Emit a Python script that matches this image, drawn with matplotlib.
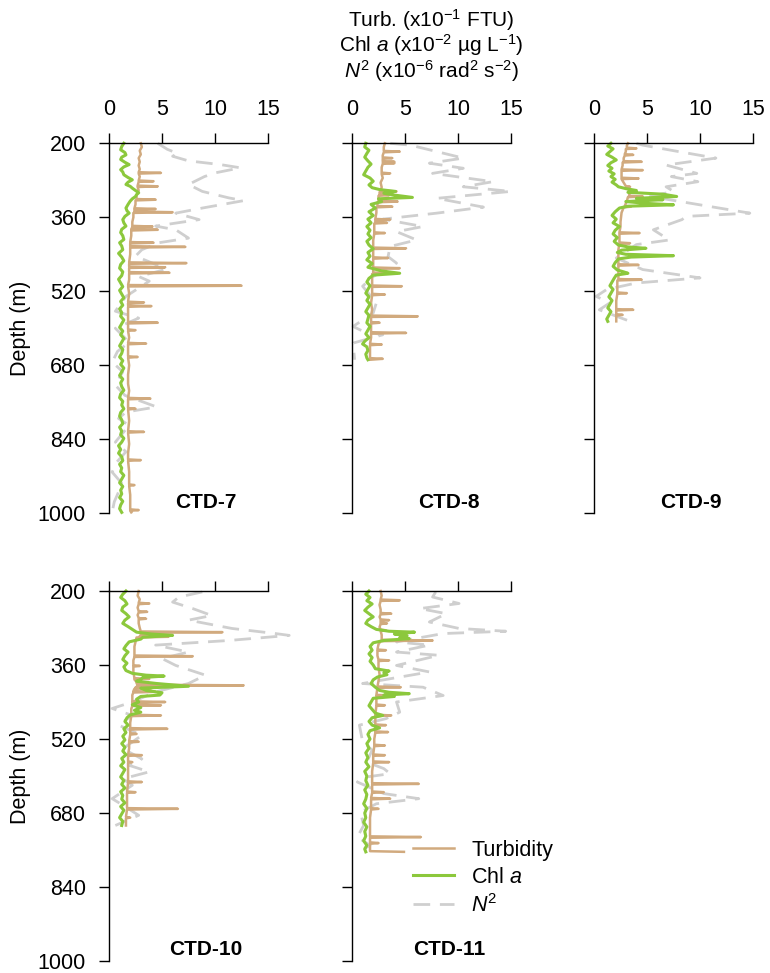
import matplotlib
matplotlib.use("Agg")
import matplotlib.pyplot as plt
from matplotlib.lines import Line2D

plt.rcParams["font.family"] = ["Liberation Sans", "DejaVu Sans"]
plt.rcParams["mathtext.fontset"] = "custom"
plt.rcParams["mathtext.rm"] = "Liberation Sans"
plt.rcParams["mathtext.it"] = "Liberation Sans:italic"
plt.rcParams["mathtext.bf"] = "Liberation Sans:bold"

# profiles: (depth m, value)
turb7 = [
    (200, 3.0), (208, 3.1), (216, 2.9), (224, 3.0), (232, 2.8), (240, 2.9), (248, 2.8), (256, 2.9),
    (262.5, 2.8), (264, 4.9), (265.5, 2.8), (272, 2.9), (280.5, 2.8), (282, 4.2), (283.5, 2.8),
    (291.5, 2.7), (293, 4.6), (294.5, 2.7), (302, 2.8), (312, 2.6), (320.5, 2.6), (322, 4.4), (323.5, 2.5),
    (332, 2.5), (340.5, 2.4), (342, 4.4), (343.5, 2.4), (347.5, 2.4), (349, 6.0), (350.5, 2.3),
    (360, 2.3), (370, 2.2), (378.5, 2.2), (380, 4.1), (381.5, 2.2), (385.5, 2.1), (387, 4.6), (388.5, 2.1),
    (400, 2.1), (413.5, 2.0), (415, 4.2), (416.5, 2.0), (422.5, 2.0), (424, 7.2), (425.5, 2.0),
    (440, 2.0), (457.5, 1.9), (459, 7.3), (460.5, 1.9), (466.5, 1.9), (468, 5.3), (469.5, 1.9),
    (478.5, 1.9), (480, 5.7), (481.5, 1.9), (495, 1.9), (506.5, 1.8), (508, 12.5), (509.5, 1.8),
    (525, 1.9), (542.5, 1.8), (544, 3.3), (545.5, 1.8), (550.5, 1.8), (552, 4.0), (553.5, 1.8),
    (570, 1.8), (586.5, 1.8), (588, 4.6), (589.5, 1.8), (602.5, 1.8), (604, 2.5), (605.5, 1.8),
    (620, 1.9), (631.5, 1.8), (633, 3.5), (634.5, 1.8), (650, 1.8), (660.5, 1.8), (662, 2.7), (663.5, 1.8),
    (680, 1.9), (700, 1.8), (720, 1.8), (735, 1.9), (750.5, 1.8), (752, 3.9), (753.5, 1.8),
    (772.5, 1.8), (774, 2.5), (775.5, 1.8), (800, 1.9), (822.5, 1.8), (824, 3.3), (825.5, 1.8),
    (850, 1.9), (870, 1.8), (883.5, 1.8), (885, 3.0), (886.5, 1.8), (910, 1.9), (937.5, 1.9), (939, 2.4),
    (940.5, 1.9), (960, 2.0), (980, 2.0), (991.5, 2.0), (993, 2.8), (994.5, 2.0), (998, 2.1),
]
chl7 = [
    (200, 1.4), (207, 1.2), (214, 1.1), (220, 1.5), (225, 1.6), (230, 1.2), (235, 1.1), (241, 1.5),
    (246, 1.9), (251, 1.4), (257, 1.1), (262, 1.3), (268, 1.4), (274, 1.8), (279, 2.2), (284, 1.8),
    (289, 1.6), (293, 2.0), (297, 2.2), (302, 2.5), (307, 2.8), (311, 2.6), (315, 2.5), (320, 2.2),
    (325, 2.0), (332, 1.8), (340, 1.6), (346, 1.7), (351, 1.9), (358, 1.5), (365, 1.3), (372, 1.4),
    (379, 1.6), (386, 1.2), (393, 1.1), (400, 1.3), (408, 1.4), (415, 1.0), (422, 1.2), (430, 1.3),
    (438, 0.9), (446, 1.2), (454, 1.4), (462, 1.1), (470, 1.0), (478, 1.3), (486, 1.2), (494, 0.9),
    (502, 1.1), (510, 1.3), (518, 1.0), (526, 1.2), (534, 1.4), (542, 1.1), (550, 1.3), (558, 1.0),
    (566, 1.2), (574, 1.1), (582, 1.4), (590, 1.2), (598, 1.0), (606, 1.3), (614, 1.1), (622, 1.4),
    (630, 1.2), (638, 1.0), (646, 1.3), (654, 1.2), (662, 1.0), (670, 1.3), (678, 1.1), (686, 1.4),
    (694, 1.2), (702, 1.0), (710, 1.3), (718, 1.1), (726, 1.2), (734, 1.4), (742, 1.1), (750, 1.0),
    (758, 1.3), (766, 1.2), (774, 1.4), (782, 1.1), (790, 1.0), (798, 1.2), (806, 1.3), (814, 1.0),
    (822, 1.2), (830, 1.1), (838, 1.4), (846, 1.2), (854, 0.9), (862, 1.1), (870, 0.9), (878, 1.2),
    (886, 1.3), (894, 1.0), (902, 1.2), (910, 1.1), (918, 1.4), (926, 1.2), (934, 1.0), (942, 1.3),
    (950, 1.1), (958, 1.2), (966, 1.0), (974, 1.3), (982, 1.1), (990, 1.0), (998, 1.2),
]
n2_7 = [
    (200, 4.6), (213, 5.5), (222, 6.5), (228, 6.0), (238, 7.5), (246, 10.5), (253, 12.4), (264, 10.0),
    (272, 9.0), (289, 7.5), (304, 8.8), (318, 11.3), (324, 12.7), (340, 8.8), (351, 6.3), (365, 8.5),
    (379, 4.4), (387, 6.3), (405, 7.5), (415, 4.7), (430, 3.1), (444, 2.5), (462, 4.4), (473, 5.3),
    (488, 2.8), (498, 3.8), (531, 1.6), (563, 0.6), (578, 2.8), (600, 0.6), (630, 1.9), (650, 0.8),
    (673, 0.3), (694, 1.3), (723, 0.6), (745, 1.5), (770, 4.5), (781, 1.6), (795, 0.9), (810, 1.9),
    (846, 0.6), (867, 1.6), (890, 0.7), (911, 0.3), (935, 1.2), (954, 0.9), (975, 0.5), (997, 0.3),
]

turb8 = [
    (200, 3.1), (208, 3.0), (216.5, 3.0), (218, 4.5), (219.5, 3.0), (226, 2.9), (230.5, 2.9), (232, 3.8),
    (233.5, 2.9), (238.5, 2.9), (240, 4.0), (241.5, 2.9), (243, 4.0), (244.5, 2.9), (252, 2.8),
    (263.5, 2.8), (265, 3.6), (266.5, 2.8), (275, 2.9), (285, 2.7), (295, 2.8), (302.5, 2.7), (304, 4.2),
    (305.5, 2.6), (310.5, 2.6), (312, 3.5), (313.5, 2.5), (324.5, 2.5), (326, 4.3), (327.5, 2.4),
    (335.5, 2.4), (337, 3.8), (338.5, 2.3), (350, 2.3), (363.5, 2.2), (365, 3.6), (366.5, 2.2),
    (370.5, 2.2), (372, 3.3), (373.5, 2.1), (385, 2.1), (392.5, 2.1), (394, 3.1), (395.5, 2.1),
    (410, 2.0), (425.5, 2.0), (427, 5.1), (428.5, 2.0), (446.5, 2.0), (448, 3.4), (449.5, 2.0), (460, 2.0),
    (468.5, 2.0), (470, 4.5), (471.5, 2.0), (479.5, 2.0), (481, 4.3), (482.5, 1.9), (495, 1.9),
    (507.5, 1.9), (509, 4.7), (510.5, 1.9), (525.5, 1.9), (527, 3.1), (528.5, 1.9), (545, 1.8), (560, 1.9),
    (572.5, 1.8), (574, 6.2), (575.5, 1.8), (586.5, 1.8), (588, 2.6), (589.5, 1.8), (600, 1.8),
    (608.5, 1.8), (610, 5.1), (611.5, 1.8), (620, 1.8), (633.5, 1.7), (635, 2.8), (636.5, 1.7), (650, 1.7),
    (664.5, 1.7), (666, 2.9), (668, 1.7),
]
chl8 = [
    (200, 1.3), (208, 1.2), (215, 1.6), (222, 1.4), (230, 1.2), (238, 1.5), (245, 1.8), (252, 1.5),
    (260, 1.3), (268, 1.1), (275, 1.7), (282, 2.0), (290, 1.6), (296, 1.9), (300, 2.6), (304, 4.1),
    (308, 3.0), (312, 4.0), (317, 5.7), (320, 2.5), (326, 2.8), (332, 1.8), (340, 2.2), (348, 1.6),
    (356, 2.0), (364, 1.5), (372, 1.8), (380, 1.4), (388, 1.7), (396, 1.5), (404, 1.8), (412, 1.4),
    (420, 1.6), (428, 2.0), (436, 1.5), (444, 1.7), (452, 1.4), (460, 1.9), (468, 1.5), (476, 2.8),
    (481, 4.5), (485, 2.0), (492, 1.6), (500, 1.4), (508, 1.7), (516, 1.5), (524, 1.3), (532, 1.6),
    (540, 1.4), (548, 1.7), (556, 1.5), (564, 1.3), (572, 1.6), (580, 1.5), (588, 1.4), (596, 1.7),
    (604, 1.5), (612, 1.3), (620, 1.6), (628, 1.2), (634, 1.0), (640, 1.4), (648, 1.5), (656, 1.3),
    (664, 1.4), (668, 1.5),
]
n2_8 = [
    (200, 3.6), (204, 5.5), (214, 7.3), (232, 10.5), (243, 7.3), (254, 10.5), (265, 7.6), (283, 13.3),
    (294, 10.5), (304, 15.0), (319, 8.0), (338, 12.4), (351, 8.0), (364, 2.9), (380, 6.7), (391, 4.2),
    (409, 6.1), (423, 3.6), (445, 3.4), (459, 4.2), (488, 2.0), (509, 1.0), (545, 2.3), (567, 2.0),
    (596, 0.1), (606, 1.0), (614, 2.9), (632, 0.1), (668, 0.25),
]

turb9 = [
    (200, 3.2), (205, 3.1), (209.5, 3.1), (211, 4.0), (212.5, 3.0), (218, 3.0), (223.5, 2.9), (225, 3.7),
    (226.5, 2.9), (232, 2.8), (238.5, 2.8), (240, 4.5), (241.5, 2.7), (248, 2.7), (256.5, 2.6), (258, 4.6),
    (259.5, 2.6), (266, 2.6), (274.5, 2.6), (276, 4.2), (277.5, 2.6), (285, 2.8), (292.5, 3.0), (294, 3.4),
    (295.5, 3.1), (305, 3.4), (313.5, 3.3), (315, 4.6), (316.5, 3.2), (325, 3.1), (335.5, 2.9), (337, 3.5),
    (338.5, 2.8), (350, 2.6), (370, 2.5), (380, 2.5), (392.5, 2.4), (394, 4.3), (395.5, 2.4), (405, 2.4),
    (414.5, 2.4), (416, 3.4), (417.5, 2.4), (430, 2.3), (445, 2.3), (461.5, 2.3), (463, 4.2), (464.5, 2.3),
    (480, 2.3), (493.5, 2.3), (495, 4.5), (496.5, 2.2), (510, 2.2), (522.5, 2.2), (524, 3.1), (525.5, 2.2),
    (540, 2.1), (558.5, 2.1), (560, 3.7), (561.5, 2.1), (569.5, 2.1), (571, 2.7), (572.5, 2.1), (585, 2.1),
]
chl9 = [
    (200, 1.6), (206, 1.3), (212, 1.8), (218, 1.5), (224, 1.2), (230, 1.7), (236, 2.1), (242, 1.6),
    (248, 1.3), (254, 1.7), (260, 1.4), (266, 1.9), (272, 1.6), (278, 2.0), (284, 1.7), (290, 2.1),
    (294, 2.3), (298, 3.0), (302, 4.0), (306, 3.2), (310, 6.5), (315, 7.8), (319, 4.0), (322, 6.5),
    (326, 3.0), (330, 5.0), (333, 7.5), (336, 3.2), (340, 2.4), (348, 2.0), (356, 1.7), (364, 2.1),
    (372, 1.8), (380, 2.4), (388, 2.0), (396, 1.8), (404, 2.2), (412, 1.9), (420, 2.3), (424, 3.2),
    (427, 4.9), (431, 2.6), (436, 2.2), (440, 3.0), (443, 7.5), (446, 3.5), (450, 2.3), (458, 2.0),
    (466, 1.8), (474, 2.2), (478, 2.8), (481, 3.2), (485, 2.1), (492, 1.9), (500, 1.7), (508, 1.5),
    (516, 1.8), (524, 1.6), (532, 1.4), (540, 1.7), (548, 1.5), (556, 1.3), (564, 1.6), (572, 1.4),
    (580, 1.2), (585, 1.3),
]
n2_9 = [
    (200, 4.0), (204, 4.6), (218, 8.0), (232, 11.5), (247, 6.8), (265, 9.7), (272, 7.3), (283, 9.8),
    (294, 6.8), (304, 7.5), (315, 5.3), (335, 10.5), (351, 14.7), (358, 8.7), (365, 8.3), (387, 5.6),
    (409, 7.1), (419, 4.0), (448, 2.1), (473, 4.6), (491, 10.0), (502, 4.0), (516, 1.2), (531, 0.2),
    (545, 1.5), (560, 0.5), (585, 3.4),
]

turb10 = [
    (200, 2.8), (210, 2.7), (218, 2.9), (225.5, 2.8), (227, 3.8), (228.5, 2.8), (236, 2.7), (243.5, 2.8),
    (245, 3.6), (246.5, 2.8), (252, 2.7), (258.5, 2.8), (260, 3.5), (261.5, 2.8), (270, 2.8), (280, 2.9),
    (287.5, 3.0), (289, 10.7), (290.5, 3.0), (294.5, 3.0), (296, 5.3), (297.5, 2.9), (299, 5.6), (300.5, 2.6),
    (310, 2.5), (320, 2.4), (330, 2.4), (339.5, 2.4), (341, 7.9), (342.5, 2.4), (350, 2.3), (360.5, 2.3),
    (362, 2.9), (363.5, 2.3), (375, 2.3), (388.5, 2.4), (390, 3.8), (391.5, 2.4), (396.5, 2.6), (398, 3.5),
    (399.5, 2.6), (402.5, 2.7), (404, 12.7), (405.5, 2.7), (408.5, 2.5), (410, 4.0), (411.5, 2.4),
    (416.5, 2.3), (418, 4.4), (419.5, 2.3), (425, 2.2), (438.5, 2.2), (440, 5.3), (441.5, 2.2),
    (445.5, 2.2), (447, 4.9), (448.5, 2.2), (455, 2.1), (467.5, 2.1), (469, 4.9), (470.5, 2.1), (485, 2.0),
    (496.5, 2.0), (498, 5.5), (499.5, 2.0), (507.5, 2.0), (509, 2.6), (510.5, 2.0), (524.5, 1.9), (526, 2.8),
    (527.5, 1.9), (540, 1.9), (553.5, 1.8), (555, 3.1), (556.5, 1.8), (568.5, 1.8), (570, 2.2), (571.5, 1.8),
    (590, 1.8), (611.5, 1.8), (613, 3.1), (614.5, 1.8), (633.5, 1.7), (635, 2.5), (636.5, 1.7), (655, 1.7),
    (669.5, 1.7), (671, 6.5), (672.5, 1.7), (688.5, 1.6), (690, 2.0), (691.5, 1.6), (707, 1.6),
]
chl10 = [
    (200, 1.6), (207, 1.3), (214, 1.1), (221, 1.5), (228, 1.7), (235, 1.3), (242, 1.2), (249, 1.6),
    (256, 1.9), (263, 1.5), (270, 1.3), (277, 1.8), (283, 2.2), (289, 2.6), (293, 4.0), (296, 6.0),
    (300, 3.2), (304, 3.0), (310, 1.9), (318, 1.6), (325, 1.4), (332, 1.8), (340, 1.5), (348, 1.3),
    (356, 1.7), (364, 1.4), (372, 1.6), (378, 2.2), (382, 3.5), (384, 5.2), (387, 3.2), (391, 3.0),
    (395, 2.6), (400, 4.5), (406, 7.5), (410, 3.0), (415, 3.5), (420, 5.0), (425, 4.8), (428, 3.0),
    (434, 2.6), (440, 2.8), (446, 2.2), (452, 3.0), (458, 2.4), (462, 3.0), (468, 2.0), (474, 1.7),
    (482, 1.5), (490, 1.8), (498, 1.4), (506, 1.6), (514, 1.3), (522, 1.5), (530, 1.2), (538, 1.5),
    (546, 1.3), (554, 1.6), (562, 1.2), (570, 1.4), (578, 1.1), (586, 1.5), (594, 1.3), (602, 1.1),
    (610, 1.4), (618, 1.2), (626, 1.5), (634, 1.1), (642, 1.3), (650, 1.2), (658, 1.5), (666, 1.1),
    (674, 1.4), (682, 1.2), (690, 1.0), (698, 1.3), (707, 1.2),
]
n2_10 = [
    (202, 8.8), (213, 6.6), (224, 6.0), (238, 7.9), (253, 9.7), (263, 7.5), (281, 11.6), (292, 15.7),
    (296, 17.0), (307, 11.3), (317, 4.4), (332, 7.5), (346, 5.0), (361, 6.3), (382, 9.1), (400, 7.5),
    (418, 4.4), (440, 2.2), (454, 0.3), (469, 2.2), (490, 0.9), (512, 3.1), (541, 1.3), (563, 3.1),
    (577, 1.9), (591, 3.8), (606, 1.3), (620, 2.2), (649, 0.3), (663, 1.3), (685, 2.8), (707, 0.6),
]

turb11 = [
    (200, 2.7), (210, 2.8), (218.5, 2.7), (220, 4.5), (221.5, 2.7), (230, 2.6), (240, 2.7), (247.5, 2.7),
    (249, 3.7), (250.5, 2.7), (256, 2.6), (261.5, 2.7), (263, 3.5), (264.5, 2.7), (268.5, 2.7), (270, 3.3),
    (271.5, 2.7), (278, 2.6), (283.5, 2.7), (285, 3.2), (286.5, 2.7), (295, 2.8), (305.5, 2.8), (307, 7.6),
    (308.5, 2.7), (315, 2.5), (326.5, 2.4), (328, 3.2), (329.5, 2.4), (340, 2.4), (348.5, 2.5), (350, 3.5),
    (351.5, 2.5), (365, 2.5), (380, 2.6), (395, 2.5), (406.5, 2.4), (408, 4.6), (409.5, 2.4), (424.5, 2.3),
    (426, 3.5), (427.5, 2.3), (445.5, 2.3), (447, 3.1), (448.5, 2.3), (467.5, 2.2), (469, 3.7), (470.5, 2.2),
    (488.5, 2.2), (490, 3.2), (491.5, 2.2), (503.5, 2.2), (505, 3.4), (506.5, 2.2), (520, 2.1), (532.5, 2.1),
    (534, 3.1), (535.5, 2.1), (553.5, 2.0), (555, 3.1), (556.5, 2.0), (568.5, 2.0), (570, 3.5), (571.5, 2.0),
    (590, 1.9), (605, 1.9), (615.5, 1.9), (617, 6.3), (618.5, 1.9), (633.5, 1.9), (635, 3.0), (636.5, 1.9),
    (647.5, 1.8), (649, 3.6), (650.5, 1.8), (660, 1.8), (669.5, 1.8), (671, 2.5), (672.5, 1.8), (690, 1.7),
    (710, 1.7), (730.5, 1.7), (732, 6.5), (733.5, 1.7), (743.5, 1.7), (745, 2.5), (746.5, 1.7), (755, 1.7),
    (762.5, 1.7), (764, 4.9),
]
chl11 = [
    (200, 1.6), (207, 1.3), (214, 1.7), (221, 1.4), (228, 1.9), (235, 1.5), (242, 1.2), (249, 1.6),
    (256, 2.0), (263, 1.5), (270, 1.3), (277, 1.8), (283, 2.3), (287, 3.5), (289, 5.9), (293, 4.0),
    (297, 5.2), (301, 4.5), (303, 5.4), (307, 3.0), (312, 2.0), (320, 1.7), (328, 1.9), (336, 1.6),
    (344, 1.9), (352, 1.7), (360, 2.0), (368, 2.2), (373, 3.5), (377, 3.0), (381, 3.3), (386, 2.4),
    (392, 2.0), (400, 1.8), (408, 2.2), (415, 2.6), (419, 3.5), (422, 5.4), (425, 3.0), (428, 4.0),
    (432, 2.0), (440, 1.8), (448, 1.6), (456, 1.9), (464, 2.2), (469, 2.9), (474, 1.9), (482, 1.6),
    (490, 1.9), (496, 2.6), (502, 1.7), (510, 1.5), (520, 1.7), (530, 1.4), (540, 1.6), (550, 1.3),
    (560, 1.5), (570, 1.3), (580, 1.6), (590, 1.2), (600, 1.4), (610, 1.3), (620, 1.5), (630, 1.2),
    (640, 1.4), (650, 1.3), (660, 1.1), (670, 1.4), (680, 1.2), (690, 1.3), (700, 1.1), (710, 1.4),
    (720, 1.2), (730, 1.3), (740, 1.1), (750, 1.4), (758, 1.2), (764, 1.3),
]
n2_11 = [
    (202, 7.9), (213, 7.6), (227, 10.1), (238, 6.4), (249, 8.9), (267, 7.3), (281, 10.1), (287, 14.5),
    (292, 8.6), (310, 4.2), (317, 7.3), (332, 4.2), (339, 8.2), (361, 4.2), (375, 7.3), (400, 1.0),
    (408, 6.7), (426, 8.6), (440, 4.2), (462, 4.5), (476, 3.2), (490, 0.7), (526, 1.0), (544, 1.9),
    (570, 1.4), (584, 3.0), (595, 3.6), (602, 1.4), (613, 0.5), (638, 3.0), (649, 6.3), (660, 2.3),
    (678, 0.8), (707, 1.1), (732, 0.5), (750, 1.7), (764, 0.6),
]

stations = ["CTD-7", "CTD-8", "CTD-9", "CTD-10", "CTD-11"]
depth_ticks = [200, 360, 520, 680, 840, 1000]
x_ticks = [0, 5, 10, 15]

turb_col = "#D1AA7E"
chl_col = "#8CC83C"
n2_col = "#CFCFCF"

profiles = {
    "CTD-7": (turb7, chl7, n2_7),
    "CTD-8": (turb8, chl8, n2_8),
    "CTD-9": (turb9, chl9, n2_9),
    "CTD-10": (turb10, chl10, n2_10),
    "CTD-11": (turb11, chl11, n2_11),
}

W, H = 770, 973
FS = 15.5
fig = plt.figure(figsize=(W / 100, H / 100), dpi=100)

col_left = [109, 352, 594]
row_top = [143.3, 591.0]
pw, ph = 159, 370

for i, name in enumerate(stations):
    r, c = divmod(i, 3)
    ax = fig.add_axes([col_left[c] / W, 1 - (row_top[r] + ph) / H, pw / W, ph / H])
    turb, chl, n2 = profiles[name]

    ax.plot([v for d, v in n2], [d for d, v in n2], color=n2_col, lw=2.0,
            dashes=(6, 3.5), clip_on=False)
    ax.plot([v for d, v in turb], [d for d, v in turb], color=turb_col, lw=1.8, clip_on=False)
    ax.plot([v for d, v in chl], [d for d, v in chl], color=chl_col, lw=2.2, clip_on=False)

    ax.set_xlim(0, 15)
    ax.set_ylim(1000, 200)
    ax.set_facecolor("none")
    for s in ["right", "bottom"]:
        ax.spines[s].set_visible(False)
    for s in ["top", "left"]:
        ax.spines[s].set_linewidth(1.0)
    ax.xaxis.tick_top()
    ax.set_xticks(x_ticks)
    ax.set_yticks(depth_ticks)
    ax.tick_params(axis="x", direction="out", length=7.5, width=1.0, labelsize=FS, pad=9,
                   labeltop=(r == 0))
    ax.tick_params(axis="y", direction="out", length=7.5, width=1.0, labelsize=FS, pad=9,
                   labelleft=(c == 0))
    if c == 0:
        ax.set_ylabel("Depth (m)", fontsize=FS, labelpad=5)
    ax.text(0.61, 0.03, name, transform=ax.transAxes, ha="center", va="center",
            fontsize=15, fontweight="bold")

title_x = (352 + pw / 2) / W
title_lines = ["Turb. (x10$^{-1}$ FTU)",
               "Chl $a$ (x10$^{-2}$ \u00b5g L$^{-1}$)",
               "$N^2$ (x10$^{-6}$ rad$^2$ s$^{-2}$)"]
for k, line in enumerate(title_lines):
    fig.text(title_x, 1 - (26.5 + 25.5 * k) / H, line, ha="center", va="baseline", fontsize=15)

handles = [
    Line2D([], [], color=turb_col, lw=1.8),
    Line2D([], [], color=chl_col, lw=2.2),
    Line2D([], [], color=n2_col, lw=2.0, dashes=(6, 3.5)),
]
fig.legend(handles, ["Turbidity", "Chl $a$", "$N^2$"], loc="upper left",
           bbox_to_anchor=(413 / W, 1 - 840 / H), frameon=False, fontsize=FS,
           borderpad=0, borderaxespad=0, handlelength=1.9, handletextpad=0.8,
           labelspacing=0.28)

fig.savefig("out.png", dpi=100)
